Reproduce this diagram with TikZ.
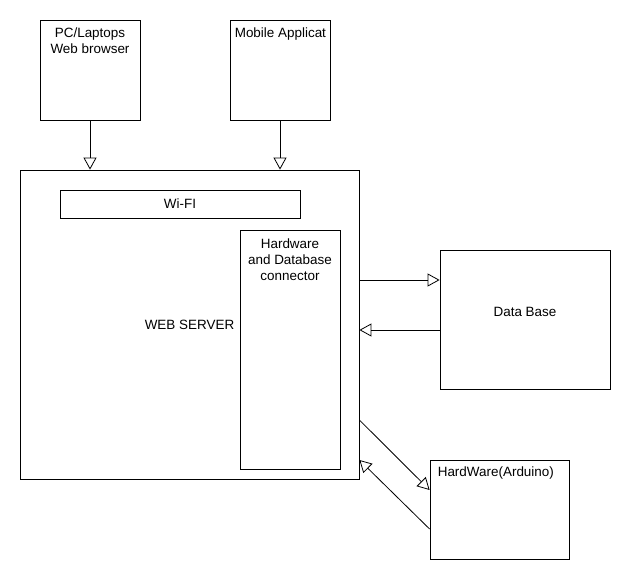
\documentclass[tikz,border=0pt]{standalone}
\usepackage{fontspec}
\setmainfont{Liberation Sans}
\usetikzlibrary{arrows.meta}

\tikzset{
  box/.style={draw, rectangle, line width=0.8bp, inner sep=0pt, font=\fontsize{13.5}{16}\selectfont},
  hollow/.style={line width=0.8bp, -{Triangle[open, length=12bp, width=13bp]}},
  txt/.style={font=\fontsize{13.5}{16}\selectfont, align=center, inner sep=0pt}
}

\begin{document}
\begin{tikzpicture}[x=1bp, y=-1bp]
  \useasboundingbox (0,0) rectangle (630,580);

  % clients on top
  \node[box, minimum width=100bp, minimum height=100bp,
    label={[txt, anchor=north, yshift=-8bp]north:PC/Laptops\\Web browser}] (pc) at (90,70) {};
  \node[box, minimum width=100bp, minimum height=100bp,
    label={[txt, anchor=north west, xshift=5bp, yshift=-8bp]north west:Mobile Applicat}] (mobile) at (280,70) {};

  % server with its parts
  \node[box, minimum width=339bp, minimum height=309bp] (server) at (189.5,324.5) {WEB SERVER};
  \node[box, minimum width=240bp, minimum height=28bp] (wifi) at (180,204) {Wi-FI};
  \node[box, minimum width=100bp, minimum height=239bp,
    label={[txt, anchor=north, yshift=-9bp]north:Hardware\\and Database\\connector}] (conn) at (290,349.5) {};

  % right side
  \node[box, minimum width=170bp, minimum height=139bp,
    label={[txt, yshift=8bp]center:Data Base}] (db) at (525,319.5) {};
  \node[box, minimum width=139bp, minimum height=99bp,
    label={[txt, anchor=north west, xshift=8bp, yshift=-7bp]north west:HardWare(Arduino)}] (hw) at (499.5,509.5) {};

  \draw[hollow] (pc.south) -- (pc.south |- server.north);
  \draw[hollow] (mobile.south) -- (mobile.south |- server.north);

  \draw[hollow] ([yshift=44.5bp]server.east) -- ([yshift=44.5bp]server.east -| db.west);
  \draw[hollow] ([yshift=-10.5bp]db.west) -- ([yshift=-10.5bp]db.west -| server.east);

  \draw[hollow] ([yshift=-95.5bp]server.east) -- ([yshift=19.5bp]hw.west);
  \draw[hollow] ([yshift=-19.5bp]hw.west) -- ([yshift=-135.5bp]server.east);
\end{tikzpicture}
\end{document}
